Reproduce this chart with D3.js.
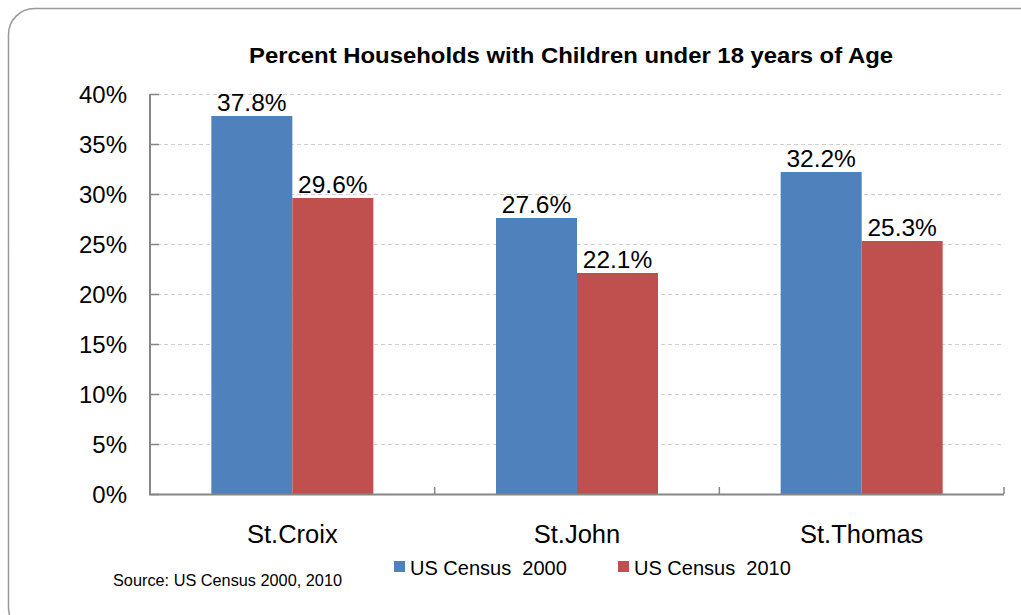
<!DOCTYPE html>
<html>
<head>
<meta charset="utf-8">
<script src="https://cdn.jsdelivr.net/npm/d3@7"></script>
<style>
html,body{margin:0;padding:0;background:#fff;}
svg{display:block;font-family:"Liberation Sans",Arial,sans-serif;}
</style>
</head>
<body>
<svg id="chart" width="1021" height="615"></svg>
<script>
const categories = ["St.Croix", "St.John", "St.Thomas"];
const seriesNames = ["US Census  2000", "US Census  2010"];
const census2000 = [37.8, 27.6, 32.2];
const census2010 = [29.6, 22.1, 25.3];
const yTicks = [0, 5, 10, 15, 20, 25, 30, 35, 40];
const colors = ["#4F81BD", "#C0504D"];
const titleText = "Percent Households with Children under 18 years of Age";
const sourceText = "Source: US Census 2000, 2010";

(function () {
const svg = d3.select("#chart");

// outer rounded frame
svg.append("rect")
  .attr("x", 8.5).attr("y", 8.5)
  .attr("width", 1045).attr("height", 625)
  .attr("rx", 26).attr("ry", 26)
  .attr("fill", "#fff").attr("stroke", "#9a9a9a").attr("stroke-width", 1.5);

const pl = 150, pr = 1004, pt = 94, pb = 494;

const x0 = d3.scaleBand().domain(categories).range([pl, pr]).paddingInner(0).paddingOuter(0);
const barW = 81;
const x1 = d3.scaleBand().domain([0, 1]).range([0, barW * 2]);
const y = d3.scaleLinear().domain([0, 40]).range([pb, pt]);

// gridlines
svg.append("g").selectAll("line").data(yTicks.filter(d => d > 0)).join("line")
  .attr("x1", pl).attr("x2", pr)
  .attr("y1", d => Math.round(y(d)) + 0.5).attr("y2", d => Math.round(y(d)) + 0.5)
  .attr("stroke", "#cfcfcf").attr("stroke-width", 1).attr("stroke-dasharray", "4,3");

// y ticks inward
svg.append("g").selectAll("line").data(yTicks).join("line")
  .attr("x1", pl).attr("x2", pl + 9)
  .attr("y1", d => Math.round(y(d)) + 0.5).attr("y2", d => Math.round(y(d)) + 0.5)
  .attr("stroke", "#868686").attr("stroke-width", 1.5);

// y tick labels
svg.append("g").selectAll("text").data(yTicks).join("text")
  .attr("x", 127).attr("y", d => y(d) + 9)
  .attr("text-anchor", "end").attr("font-size", 24).attr("fill", "#000")
  .text(d => d + "%");

// bars
const series = [census2000, census2010];
const groups = svg.append("g").selectAll("g").data(categories).join("g")
  .attr("transform", c => `translate(${x0(c) + (x0.bandwidth() - barW * 2) / 2},0)`);

groups.selectAll("rect").data((c, i) => series.map((s, k) => ({k, v: s[i]}))).join("rect")
  .attr("x", d => x1(d.k)).attr("width", x1.bandwidth())
  .attr("y", d => y(d.v)).attr("height", d => y(0) - y(d.v))
  .attr("fill", d => colors[d.k]);

groups.selectAll("text").data((c, i) => series.map((s, k) => ({k, v: s[i]}))).join("text")
  .attr("x", d => x1(d.k) + x1.bandwidth() / 2)
  .attr("y", d => y(d.v) - 5)
  .attr("text-anchor", "middle").attr("font-size", 24.5).attr("fill", "#000")
  .text(d => d.v.toFixed(1) + "%");

// axes lines
svg.append("line").attr("x1", pl).attr("x2", pl).attr("y1", pt).attr("y2", pb + 1)
  .attr("stroke", "#868686").attr("stroke-width", 2);
svg.append("line").attr("x1", pl - 1).attr("x2", pr).attr("y1", pb + 0.5).attr("y2", pb + 0.5)
  .attr("stroke", "#868686").attr("stroke-width", 2);

// category ticks (upward)
const catEdges = categories.map(c => x0(c)).concat([pr]).slice(1);
svg.append("g").selectAll("line").data(catEdges).join("line")
  .attr("x1", d => d).attr("x2", d => d)
  .attr("y1", pb).attr("y2", pb - 7)
  .attr("stroke", "#868686").attr("stroke-width", 1.5);

// category labels
svg.append("g").selectAll("text").data(categories).join("text")
  .attr("x", c => x0(c) + x0.bandwidth() / 2).attr("y", 543)
  .attr("text-anchor", "middle").attr("font-size", 25.5).attr("fill", "#000")
  .text(c => c);

// title
svg.append("text").attr("x", 571).attr("y", 63)
  .attr("text-anchor", "middle").attr("font-size", 22).attr("font-weight", "bold").attr("fill", "#000")
  .attr("textLength", 644).attr("lengthAdjust", "spacingAndGlyphs")
  .text(titleText);

// legend
const legendX = [394, 618];
const lg = svg.append("g").selectAll("g").data(seriesNames).join("g")
  .attr("transform", (d, i) => `translate(${legendX[i]},0)`);
lg.append("rect").attr("x", 0).attr("y", 561).attr("width", 11).attr("height", 11)
  .attr("fill", (d, i) => colors[i]);
lg.append("text").attr("x", 16).attr("y", 575).attr("font-size", 20).attr("fill", "#000")
  .style("white-space", "pre")
  .text(d => d);

// source
svg.append("text").attr("x", 113).attr("y", 586).attr("font-size", 16).attr("fill", "#000")
  .attr("textLength", 229).attr("lengthAdjust", "spacingAndGlyphs")
  .text(sourceText);
})();
</script>
</body>
</html>
